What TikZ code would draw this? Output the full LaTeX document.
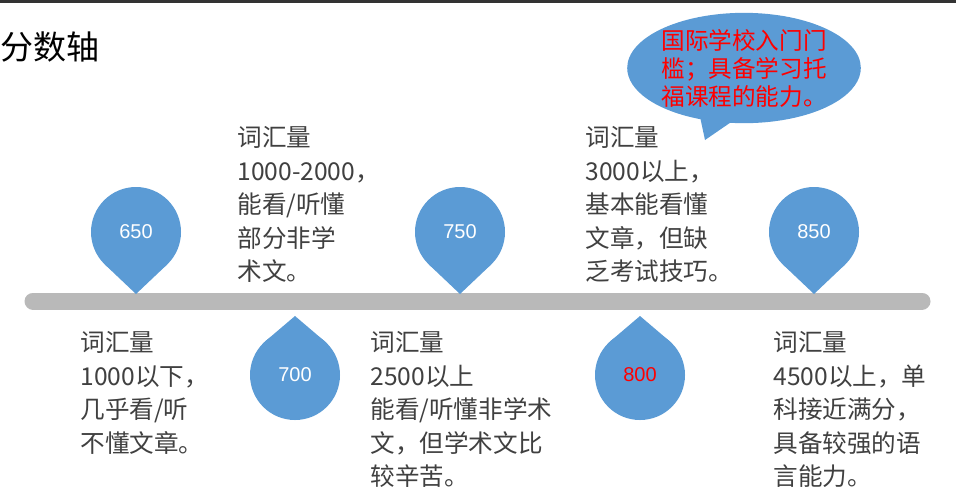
\documentclass[tikz,border=0pt]{standalone}
\usepackage{fontspec}
\setmainfont{Noto Sans CJK SC}
\setsansfont{Liberation Sans}
\usetikzlibrary{shapes.callouts}

\definecolor{dropblue}{HTML}{5B9BD5}
\definecolor{textgray}{HTML}{404040}

\tikzset{
  drop/.style={circle, minimum size=45pt, inner sep=0pt, outer sep=0pt,
    fill=dropblue, text=white, font=\sffamily\fontsize{10}{12}\selectfont},
  note/.style={anchor=north west, align=left, inner sep=0pt, text=textgray,
    font=\fontsize{12.3}{16.8}\selectfont},
}

\begin{document}
\begin{tikzpicture}[x=0.5pt, y=-0.5pt]
    \useasboundingbox (0,0) rectangle (956,500);
    \fill[black!80] (0,0) rectangle (956,3);
    \node [anchor=west, inner sep=0pt, font=\fontsize{16.5}{18}\selectfont] (title) at (0,47) {分数轴};

    % axis
    \draw [line width=8.5pt, line cap=round, gray!55] (33,301) -- (922,301);

    % drops above the axis
    \node [drop] (d650) at (136,232) {650};
    \node [drop] (d750) at (460,232) {750};
    \node [drop] (d850) at (814,232) {850};
    \fill [dropblue] (d650.-46) -- (136,294) -- (d650.-134) -- cycle;
    \fill [dropblue] (d750.-46) -- (460,294) -- (d750.-134) -- cycle;
    \fill [dropblue] (d850.-46) -- (814,294) -- (d850.-134) -- cycle;

    % drops below the axis
    \node [drop] (d700) at (295,375) {700};
    \node [drop, text=red] (d800) at (640,375) {800};
    \fill [dropblue] (d700.46) -- (295,316) -- (d700.134) -- cycle;
    \fill [dropblue] (d800.46) -- (640,316) -- (d800.134) -- cycle;

    % notes
    \node [note] (n2000) at (237,126) {词汇量\\1000-2000，\\能看/听懂\\部分非学\\术文。};
    \node [note] (n3000) at (585,126) {词汇量\\3000以上，\\基本能看懂\\文章，但缺\\乏考试技巧。};
    \node [note] (n1000) at (80,331) {词汇量\\1000以下，\\几乎看/听\\不懂文章。};
    \node [note] (n2500) at (370,331) {词汇量\\2500以上\\能看/听懂非学术\\文，但学术文比\\较辛苦。};
    \node [note] (n4500) at (773,331) {词汇量\\4500以上，单\\科接近满分，\\具备较强的语\\言能力。};

    % callout
    \node [ellipse callout, fill=dropblue, minimum width=114pt, minimum height=54pt,
      callout absolute pointer={(705,140)}, text=red, align=left, inner sep=0pt,
      font=\fontsize{11.8}{14}\selectfont] (gate) at (744,68)
      {国际学校入门门\\槛；具备学习托\\福课程的能力。};
\end{tikzpicture}
\end{document}
